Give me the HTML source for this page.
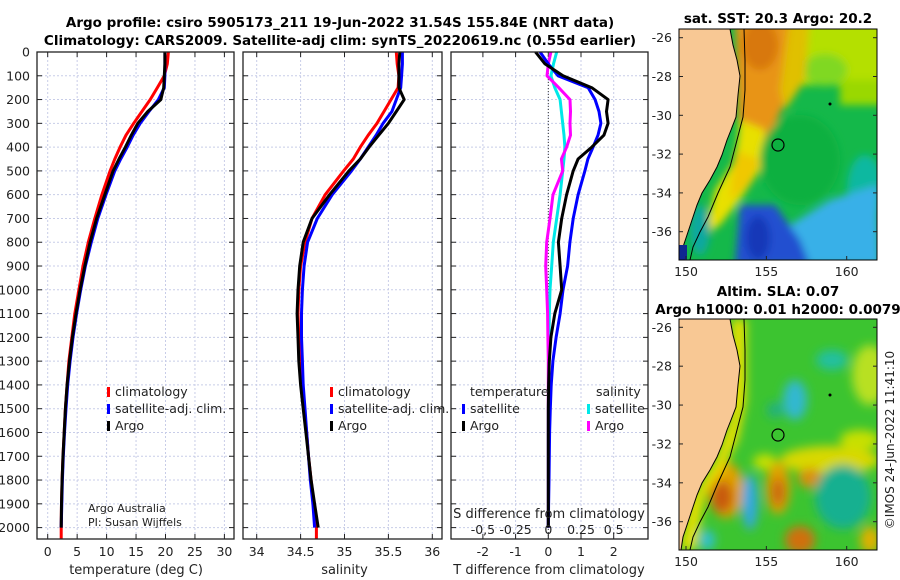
<!DOCTYPE html>
<html><head><meta charset="utf-8">
<style>
html,body{margin:0;padding:0;background:#fff;}
svg{display:block;font-family:"DejaVu Sans","Liberation Sans",sans-serif;}
</style></head>
<body>
<svg id="fig" width="900" height="580" viewBox="0 0 900 580">
<defs>
<filter id="blur1" x="-50%" y="-50%" width="200%" height="200%"><feGaussianBlur stdDeviation="4"/></filter>
<filter id="blur2" x="-50%" y="-50%" width="200%" height="200%"><feGaussianBlur stdDeviation="5"/></filter>
<clipPath id="cm1"><rect x="679" y="29" width="198" height="231"/></clipPath>
<clipPath id="cm2"><rect x="679" y="319" width="198" height="231"/></clipPath>
<clipPath id="cp1"><rect x="37" y="52" width="197" height="487"/></clipPath>
<clipPath id="cp2"><rect x="243" y="52" width="199" height="487"/></clipPath>
<clipPath id="cp3"><rect x="451" y="52" width="197" height="487"/></clipPath>
</defs>
<text x="340" y="27" text-anchor="middle" font-size="13.5" font-weight="bold">Argo profile: csiro 5905173_211 19-Jun-2022 31.54S 155.84E (NRT data)</text>
<text x="340" y="45" text-anchor="middle" font-size="13.5" font-weight="bold">Climatology: CARS2009. Satellite-adj clim: synTS_20220619.nc (0.55d earlier)</text>

<!-- Map 1: SST -->
<g>
<g clip-path="url(#cm1)">
<rect x="679" y="29" width="198" height="231" fill="#14b84a"/>
<g filter="url(#blur1)">
<rect x="770" y="15" width="120" height="70" fill="#b4e000"/>
<rect x="840" y="80" width="50" height="25" fill="#9ad800"/>
<ellipse cx="825" cy="70" rx="22" ry="16" fill="#80d820"/>
<polygon points="735,15 800,15 800,60 790,90 775,125 760,160 745,175 738,120" fill="#e89418"/>
<ellipse cx="760" cy="45" rx="18" ry="25" fill="#d8780c"/>
<polygon points="790,15 810,15 805,80 785,110 780,90" fill="#e0c000"/>
<polygon points="740,120 765,130 760,170 740,200 720,225 705,235 715,190 735,160" fill="#e8e000"/>
<polygon points="735,150 760,160 750,185 730,200" fill="#f0c800"/>
<ellipse cx="800" cy="160" rx="40" ry="45" fill="#10b040"/>
<ellipse cx="865" cy="190" rx="18" ry="35" fill="#10b8a0"/>
<polygon points="830,200 877,185 880,265 770,265 790,225" fill="#38b0e8"/>
<polygon points="740,205 775,205 800,240 810,265 735,265" fill="#2050d0"/>
<ellipse cx="758" cy="238" rx="12" ry="22" fill="#1838b8"/>
<ellipse cx="700" cy="230" rx="10" ry="25" fill="#10a8a0"/>
</g>
<polygon points="679,29 730,29 733,45 737,60 740,76 738,95 736,117 731,130 727,140 722,155 717,167 710,180 702,193 697,205 693,217 688,232 683,247 681,260 679,260" fill="#f8c894"/>
<polyline points="730,29 733,45 737,60 740,76 738,95 736,117 731,130 727,140 722,155 717,167 710,180 702,193 697,205 693,217 688,232 683,247 681,260" fill="none" stroke="#000" stroke-width="1"/>
<polyline points="744,29 745,60 745,90 743,117 737,140 730,167 718,193 708,217 700,232 693,247 690,260" fill="none" stroke="#000" stroke-width="1"/>
<rect x="679" y="245" width="8" height="15" fill="#102890"/>
<circle cx="778" cy="145" r="6" fill="none" stroke="#000" stroke-width="1.2"/>
<circle cx="830" cy="104" r="1.5" fill="#000"/>
</g>
<rect x="679" y="29" width="198" height="231" fill="none" stroke="#000" stroke-width="1"/>
</g>
<text x="778" y="23" text-anchor="middle" font-size="13.5" font-weight="bold">sat. SST: 20.3 Argo: 20.2</text>

<!-- Map 2: SLA -->
<g>
<g clip-path="url(#cm2)">
<rect x="679" y="319" width="198" height="231" fill="#3cc430"/>
<g filter="url(#blur2)">
<ellipse cx="832" cy="360" rx="16" ry="10" fill="#20c0a0"/>
<ellipse cx="870" cy="375" rx="18" ry="30" fill="#b8e020"/>
<ellipse cx="795" cy="400" rx="12" ry="20" fill="#30b8d0"/>
<ellipse cx="775" cy="410" rx="8" ry="8" fill="#20b080"/>
<ellipse cx="830" cy="460" rx="50" ry="14" fill="#d8d800"/>
<ellipse cx="860" cy="440" rx="20" ry="10" fill="#c8e000"/>
<ellipse cx="765" cy="462" rx="12" ry="8" fill="#c8e000"/>
<ellipse cx="726" cy="490" rx="18" ry="28" fill="#e0a000"/>
<ellipse cx="722" cy="497" rx="11" ry="16" fill="#c85a10"/>
<ellipse cx="778" cy="488" rx="12" ry="26" fill="#e0a000"/>
<ellipse cx="778" cy="492" rx="6" ry="14" fill="#c86010"/>
<ellipse cx="810" cy="478" rx="12" ry="10" fill="#d89010"/>
<ellipse cx="750" cy="502" rx="8" ry="28" fill="#30a8e0"/>
<ellipse cx="843" cy="497" rx="28" ry="32" fill="#18b090"/>
<ellipse cx="800" cy="540" rx="15" ry="14" fill="#d07010"/>
<ellipse cx="707" cy="540" rx="8" ry="10" fill="#30c0d0"/>
<ellipse cx="870" cy="540" rx="10" ry="14" fill="#e0b000"/>
<polygon points="732,319 746,319 746,400 738,440 725,465 705,495 695,550 680,550 690,500 715,460 730,420" fill="#e8e000"/>
</g>
<polygon points="679,319 730,319 733,335 737,350 740,366 738,385 736,407 731,420 727,430 722,445 717,457 710,470 702,483 697,495 693,507 688,522 683,537 681,550 679,550" fill="#f8c894"/>
<polyline points="730,319 733,335 737,350 740,366 738,385 736,407 731,420 727,430 722,445 717,457 710,470 702,483 697,495 693,507 688,522 683,537 681,550" fill="none" stroke="#000" stroke-width="1"/>
<polyline points="744,319 745,350 745,380 743,407 737,430 730,457 718,483 708,507 700,522 693,537 690,550" fill="none" stroke="#000" stroke-width="1"/>
<circle cx="778" cy="435" r="6" fill="none" stroke="#000" stroke-width="1.2"/>
<circle cx="830" cy="395" r="1.5" fill="#000"/>
</g>
<rect x="679" y="319" width="198" height="231" fill="none" stroke="#000" stroke-width="1"/>
</g>
<text x="778" y="296" text-anchor="middle" font-size="13.5" font-weight="bold">Altim. SLA: 0.07</text>
<text x="778" y="314" text-anchor="middle" font-size="13.5" font-weight="bold">Argo h1000: 0.01 h2000: 0.0079</text>
<text transform="translate(894,440) rotate(-90)" text-anchor="middle" font-size="12" fill="#222">©IMOS 24-Jun-2022 11:41:10</text>

<g id="plots"></g>
</svg>

<script>
// ---- data ----
const depths = [0,50,100,150,200,250,300,350,400,450,500,600,700,800,900,1000,1100,1200,1300,1400,1500,1600,1700,1800,1900,2000];
const climDepths = [0,50,100,150,200,250,300,350,400,450,500,600,700,800,900,1000,1100,1200,1300,1400,1500,1600,1700,1800,1900,2000,2050];
const tempClim = [20.5,20.3,19.8,18.6,17.4,16.0,14.6,13.3,12.3,11.4,10.6,9.2,8.0,6.9,6.0,5.3,4.6,4.1,3.6,3.3,3.0,2.8,2.6,2.45,2.35,2.3,2.3];
const tempSat = [19.9,19.9,19.9,19.8,18.8,17.2,15.7,14.5,13.5,12.4,11.4,9.9,8.5,7.4,6.4,5.6,4.9,4.3,3.8,3.4,3.1,2.85,2.65,2.5,2.4,2.3];
const tempArgo = [19.9,19.9,19.8,19.7,19.2,17.0,15.3,14.2,13.2,12.1,11.1,9.7,8.3,7.2,6.3,5.5,4.8,4.2,3.7,3.3,3.0,2.8,2.6,2.45,2.35,2.3];
const salClim = [35.59,35.60,35.62,35.61,35.53,35.45,35.37,35.27,35.18,35.10,34.99,34.78,34.63,34.55,34.50,34.48,34.47,34.48,34.49,34.51,34.54,34.57,34.59,34.62,34.65,34.68,34.68];
const salSat = [35.66,35.66,35.65,35.64,35.59,35.54,35.44,35.36,35.27,35.18,35.08,34.86,34.69,34.58,34.54,34.52,34.51,34.51,34.52,34.53,34.55,34.57,34.59,34.61,34.64,34.66];
const salArgo = [35.63,35.62,35.62,35.62,35.68,35.59,35.50,35.39,35.28,35.18,35.05,34.83,34.63,34.53,34.49,34.47,34.46,34.47,34.48,34.50,34.53,34.56,34.59,34.62,34.66,34.70];
const tDiffSat = [-0.25,0.0,0.3,1.22,1.43,1.55,1.61,1.52,1.37,1.21,1.12,0.91,0.76,0.66,0.59,0.45,0.36,0.24,0.14,0.09,0.06,0.04,0.03,0.02,0.01,0.0];
const tDiffArgo = [-0.39,-0.1,0.45,1.33,1.83,1.78,1.83,1.7,1.33,0.91,0.76,0.56,0.41,0.31,0.36,0.41,0.2,0.08,0.03,0.01,0.0,0.0,0.0,0.0,0.0,0.0];
const sDiffSat = [0.064,0.04,0.02,0.05,0.09,0.10,0.11,0.12,0.127,0.12,0.11,0.09,0.064,0.038,0.026,0.013,0.008,0.005,0.003,0.002,0.001,0,0,0,0,0];
const sDiffArgo = [0.02,0.0,-0.01,0.08,0.166,0.17,0.166,0.17,0.14,0.10,0.11,0.036,0.013,-0.012,-0.02,-0.012,-0.005,-0.003,0,0,0,0,0,0,0,0];
const depthTicks = [0,100,200,300,400,500,600,700,800,900,1000,1100,1200,1300,1400,1500,1600,1700,1800,1900,2000];
const tempTicks = [0,5,10,15,20,25,30];
const salTicks = [34,34.5,35,35.5,36];
const salTickLabels = ["34","34.5","35","35.5","36"];
const tdTicks = [-2,-1,0,1,2];
const sdTicks = [-0.5,-0.25,0,0.25,0.5];
const sdTickLabels = ["-0,5","-0.25","0","0.25","0.5"];

const NS = "http://www.w3.org/2000/svg";
const root = document.getElementById('plots');
function mk(tag, attrs, parent){ const e=document.createElementNS(NS,tag); for(const k in attrs) e.setAttribute(k,attrs[k]); (parent||root).appendChild(e); return e; }

const yOf = d => 52 + d*0.2378;
const panels = [
  {name:'temperature-panel', x0:37, x1:234, f: v => 47.7 + v*5.89, clip:'cp1'},
  {name:'salinity-panel', x0:243, x1:442, f: v => 256.7 + (v-34)*87.8, clip:'cp2'},
  {name:'difference-panel', x0:451, x1:648, f: v => 548.3 + v*32.7, clip:'cp3'}
];
const sdX = v => 548.3 + v*4*32.7;

function axesFrame(p, ticks){
  const g = mk('g',{});
  
  
  depthTicks.forEach(d=>{
    const l = mk('line',{x1:p.x0,x2:p.x1,y1:yOf(d),y2:yOf(d),stroke:'#c8cde8','stroke-width':1,'stroke-dasharray':'2,2'},g);
    
    
  });
  ticks.forEach(t=>{
    const x=p.f(t);
    const l = mk('line',{x1:x,x2:x,y1:52,y2:539,stroke:'#c8cde8','stroke-width':1,'stroke-dasharray':'2,2'},g);
    
    
    mk('line',{x1:x,x2:x,y1:52,y2:57,stroke:'#222'},g);
    mk('line',{x1:x,x2:x,y1:539,y2:534,stroke:'#222'},g);
  });
  depthTicks.forEach(d=>{
    mk('line',{x1:p.x0,x2:p.x0+5,y1:yOf(d),y2:yOf(d),stroke:'#222'},g);
    mk('line',{x1:p.x1,x2:p.x1-5,y1:yOf(d),y2:yOf(d),stroke:'#222'},g);
  });
  return g;
}
function series(p, g, xs, ds, color, name, fx){
  const f = fx || p.f;
  const pts = xs.map((v,i)=> f(v).toFixed(1)+','+yOf(ds[i]).toFixed(1)).join(' ');
  const pl = mk('polyline',{points:pts,fill:'none',stroke:color,'stroke-width':3,'stroke-linejoin':'round','clip-path':'url(#'+p.clip+')'},g);
  
  
}
function frame(p,g){ mk('rect',{x:p.x0,y:52,width:p.x1-p.x0,height:487,fill:'none',stroke:'#222','stroke-width':1.3},g); }
function txt(s,x,y,attrs,g,name){
  const t = mk('text',Object.assign({x:x,y:y,'font-size':12.5,fill:'#222'},attrs||{}),g);
  t.textContent=s;
  
  
  return t;
}
function legendItem(g,x,y,color,label,name){
  const r = mk('rect',{x:x,y:y-9,width:3,height:10,fill:color},g);
  
  
  txt(label,x+8,y,{},g,name);
}

// Panel 1 temperature
let p=panels[0], g=axesFrame(p,tempTicks);
series(p,g,tempClim,climDepths,'#ff0000','temp-climatology-line');
series(p,g,tempSat,depths,'#0000ff','temp-satellite-line');
series(p,g,tempArgo,depths,'#000000','temp-argo-line');
frame(p,g);
depthTicks.forEach(d=> txt(String(d),30,yOf(d)+4.5,{'text-anchor':'end'},root,'y-tick-label'));
tempTicks.forEach(t=> txt(String(t),p.f(t),556,{'text-anchor':'middle'},g,'x-tick-label'));
txt('temperature (deg C)',p.f(15),574,{'text-anchor':'middle','font-size':13},g,'temperature-axis-title');
legendItem(g,107,396,'#ff0000','climatology','legend-climatology');
legendItem(g,107,413,'#0000ff','satellite-adj. clim.','legend-satellite');
legendItem(g,107,430,'#000000','Argo','legend-argo');
txt('Argo Australia',88,512,{'font-size':11},g,'credit-line-1');
txt('PI: Susan Wijffels',88,526,{'font-size':11},g,'credit-line-2');

// Panel 2 salinity
p=panels[1]; g=axesFrame(p,salTicks);
series(p,g,salClim,climDepths,'#ff0000','sal-climatology-line');
series(p,g,salSat,depths,'#0000ff','sal-satellite-line');
series(p,g,salArgo,depths,'#000000','sal-argo-line');
frame(p,g);
salTicks.forEach((t,i)=> txt(salTickLabels[i],p.f(t),556,{'text-anchor':'middle'},g,'x-tick-label'));
txt('salinity',p.f(35),574,{'text-anchor':'middle','font-size':13},g,'salinity-axis-title');
legendItem(g,330,396,'#ff0000','climatology','legend-climatology');
legendItem(g,330,413,'#0000ff','satellite-adj. clim.','legend-satellite');
legendItem(g,330,430,'#000000','Argo','legend-argo');

// Panel 3 differences
p=panels[2]; g=axesFrame(p,tdTicks);
const zl = mk('line',{x1:p.f(0),x2:p.f(0),y1:52,y2:539,stroke:'#333','stroke-width':1,'stroke-dasharray':'1,2'},g);


series(p,g,sDiffSat,depths,'#00e8e8','sdiff-satellite-line',sdX);
series(p,g,sDiffArgo,depths,'#ff00ff','sdiff-argo-line',sdX);
series(p,g,tDiffSat,depths,'#0000ff','tdiff-satellite-line');
series(p,g,tDiffArgo,depths,'#000000','tdiff-argo-line');
frame(p,g);
tdTicks.forEach(t=> txt(String(t),p.f(t),556,{'text-anchor':'middle'},g,'x-tick-label'));
txt('T difference from climatology',549,574,{'text-anchor':'middle','font-size':13},g,'tdiff-axis-title');
txt('S difference from climatology',549,518,{'text-anchor':'middle','font-size':13},g,'sdiff-axis-title');
sdTicks.forEach((t,i)=> txt(sdTickLabels[i],sdX(t),534,{'text-anchor':'middle'},g,'s-tick-label'));
txt('temperature',470,396,{},g,'legend-temperature-header');
legendItem(g,462,413,'#0000ff','satellite','legend-t-satellite');
legendItem(g,462,430,'#000000','Argo','legend-t-argo');
txt('salinity',596,396,{},g,'legend-salinity-header');
legendItem(g,587,413,'#00e8e8','satellite','legend-s-satellite');
legendItem(g,587,430,'#ff00ff','Argo','legend-s-argo');

// Map ticks
const latTicks=[-26,-28,-30,-32,-34,-36];
const lonTicks=[150,155,160];
[[37.7,19.4,'sst'],[327.3,19.44,'sla']].forEach(([y26,sc,nm])=>{
  latTicks.forEach(l=>{
    const y=y26+(-26-l)*sc;
    txt(String(l),672,y+4.5,{'text-anchor':'end'},root,nm+'-lat-label');
    mk('line',{x1:679,x2:683,y1:y,y2:y,stroke:'#222'});
    mk('line',{x1:877,x2:873,y1:y,y2:y,stroke:'#222'});
  });
  lonTicks.forEach(l=>{
    const x=686+(l-150)*16.07;
    const yb = nm==='sst'?260:550;
    txt(String(l),x,yb+16,{'text-anchor':'middle'},root,nm+'-lon-label');
    mk('line',{x1:x,x2:x,y1:yb,y2:yb-4,stroke:'#222'});
  });
});
</script>
</body></html>
